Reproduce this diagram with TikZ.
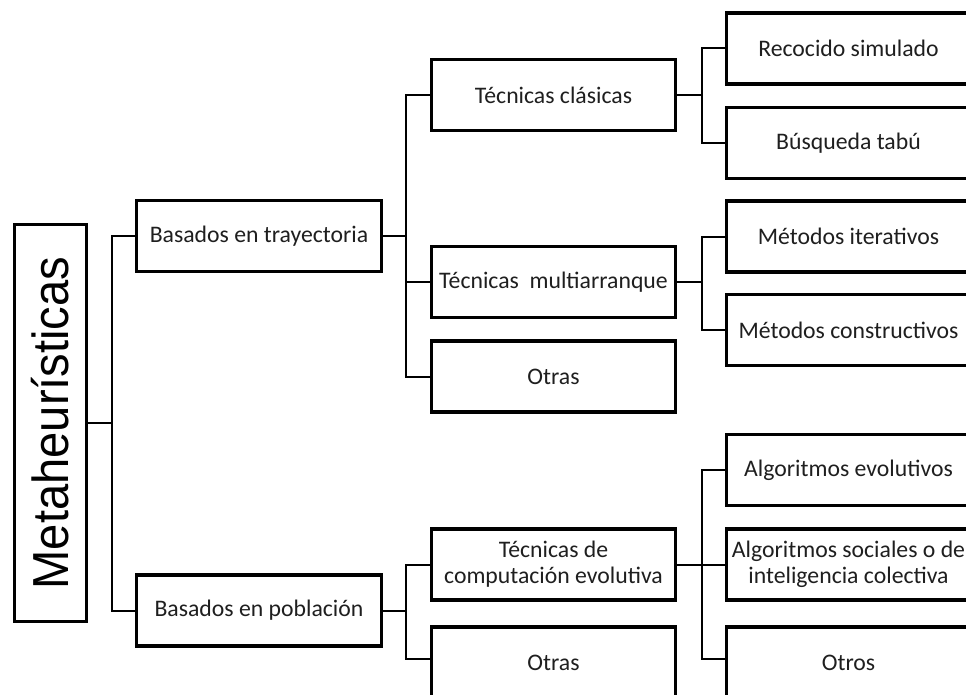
\documentclass[tikz,border=0pt]{standalone}
\usepackage{fontspec}
\usepackage{graphicx}
\setmainfont{Carlito}
\newfontfamily\metafont{Liberation Sans}
\begin{document}
\begin{tikzpicture}[x=0.75pt,y=-0.75pt,
  box/.style={draw=black, line width=2.5pt, fill=white, minimum width=183pt, minimum height=53.25pt,
    inner sep=0pt, align=center, text=black!88, font=\fontsize{17.8}{19.5}\selectfont},
  link/.style={draw=black, line width=1.5pt}]
\useasboundingbox (0,0) rectangle (966,695);
\clip (0,0) rectangle (966,695);
% root
\node[draw=black, line width=2.5pt, rotate=90, minimum width=297.75pt, minimum height=54pt, inner sep=0pt,
  font=\metafont\fontsize{38}{40}\selectfont, text=black] (meta) at (50.5,423)
  {\scalebox{0.93}[1]{Metaheurísticas}};
% level 1
\node[box, minimum width=183.75pt] (bt) at (259,236) {Basados en trayectoria};
\node[box, minimum width=183.75pt] (bp) at (259,610.5) {Basados en población};
% level 2
\node[box] (tc) at (553.5,95) {Técnicas clásicas};
\node[box] (tm) at (553.5,282) {Técnicas\ \ multiarranque};
\node[box] (ot1) at (553.5,376.5) {Otras};
\node[box] (tce) at (553.5,564.5) {Técnicas de\\computación evolutiva};
\node[box] (ot2) at (553.5,662.5) {Otras};
% level 3
\node[box] (rs) at (848.5,48.5) {Recocido simulado};
\node[box] (bq) at (848.5,143) {Búsqueda tabú};
\node[box] (mi) at (848.5,236.5) {Métodos iterativos};
\node[box] (mc) at (848.5,330) {Métodos constructivos};
\node[box] (ae) at (848.5,470) {Algoritmos evolutivos};
\node[box] (as) at (848.5,564.5) {Algoritmos sociales o de\\inteligencia colectiva};
\node[box] (oo) at (848.5,662.5) {Otros};
% junctions
\coordinate (j1) at (112,423);
\coordinate (j2) at (406,236);
\coordinate (j3) at (702,95);
\coordinate (j4) at (702,282);
\coordinate (j5) at (406,610.5);
\coordinate (j6) at (702,564.5);
% connectors
\draw[link] (meta.south) -- (j1);
\draw[link] (bt.west) -| (j1) |- (bp.west);
\draw[link] (bt.east) -- (j2);
\draw[link] (tc.west) -| (j2) |- (ot1.west);
\draw[link] (tm.west) -- (tm.west -| j2);
\draw[link] (tc.east) -- (j3);
\draw[link] (rs.west) -| (j3) |- (bq.west);
\draw[link] (tm.east) -- (j4);
\draw[link] (mi.west) -| (j4) |- (mc.west);
\draw[link] (bp.east) -- (j5);
\draw[link] (tce.west) -| (j5) |- ([yshift=3pt]ot2.west);
\draw[link] (tce.east) -- (as.west);
\draw[link] (ae.west) -| (j6) |- ([yshift=3pt]oo.west);
\end{tikzpicture}
\end{document}
